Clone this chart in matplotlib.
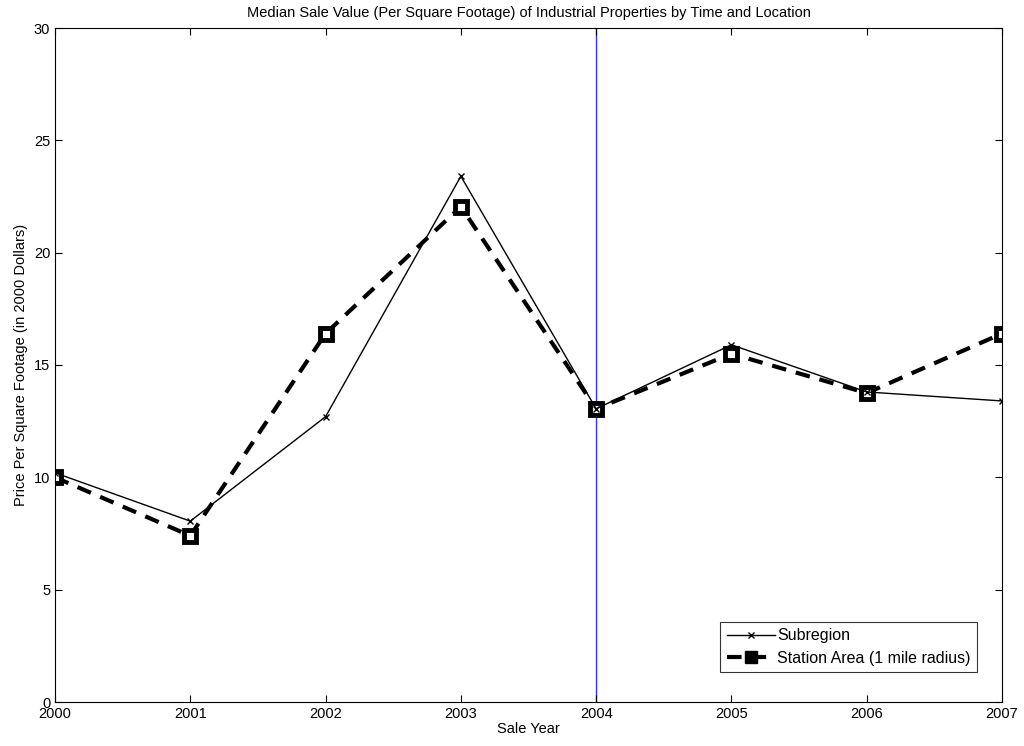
import matplotlib
matplotlib.use("Agg")
import matplotlib.pyplot as plt
from matplotlib import font_manager

years = [2000, 2001, 2002, 2003, 2004, 2005, 2006, 2007]
subregion = [10.2, 8.05, 12.7, 23.4, 13.05, 15.9, 13.8, 13.4]
station = [10.0, 7.4, 16.4, 22.05, 13.05, 15.5, 13.75, 16.4]
yticks = [0, 5, 10, 15, 20, 25, 30]

names = {f.name for f in font_manager.fontManager.ttflist}
fam = "Liberation Sans" if "Liberation Sans" in names else "DejaVu Sans"
title_fam = "Liberation Sans Narrow" if "Liberation Sans Narrow" in names else fam
plt.rcParams['font.family'] = [fam, 'DejaVu Sans']

fig = plt.figure(figsize=(10.24, 7.46), dpi=100)
ax = fig.add_axes([55/1024, 1-702/746, (1002-55)/1024, (702-28)/746])

ax.axvline(2004, color='#3333ff', lw=1.0, zorder=1)
ax.plot(years, subregion, color='black', lw=1.0, marker='x', ms=4, mew=1,
        label='Subregion', zorder=3)
ax.plot(years, station, color='black', lw=3, ls=(0, (3.5, 2.4)), marker='s', ms=8,
        mfc='white', mec='black', mew=3.5, label='Station Area (1 mile radius)', zorder=2)

ax.set_xlim(2000, 2007)
ax.set_ylim(0, 30)
ax.set_yticks(yticks)
ax.set_xticks(years)
ax.tick_params(direction='in', top=True, right=True, length=5, labelsize=10.5, width=0.8)
for s in ax.spines.values():
    s.set_linewidth(0.8)

ax.set_xlabel('Sale Year', fontsize=10.5, labelpad=1)
ax.set_ylabel('Price Per Square Footage (in 2000 Dollars)', fontsize=10.5, labelpad=4)
ax.set_title('Median Sale Value (Per Square Footage) of Industrial Properties by Time and Location',
             fontsize=10.5, family=[title_fam, 'DejaVu Sans'], pad=8)

leg = ax.legend(loc='lower right', bbox_to_anchor=(0.9736, 0.0445), fontsize=11.5, frameon=True,
                fancybox=False, edgecolor='black', handlelength=3.0, borderpad=0.4,
                labelspacing=0.45, handletextpad=0.15, borderaxespad=0.0)
leg.get_frame().set_linewidth(0.8)
h = leg.legend_handles[1]
h.set_markerfacecolor('black')
h.set_markersize(9)
h.set_markeredgewidth(1)

fig.savefig('out.png', dpi=100)
